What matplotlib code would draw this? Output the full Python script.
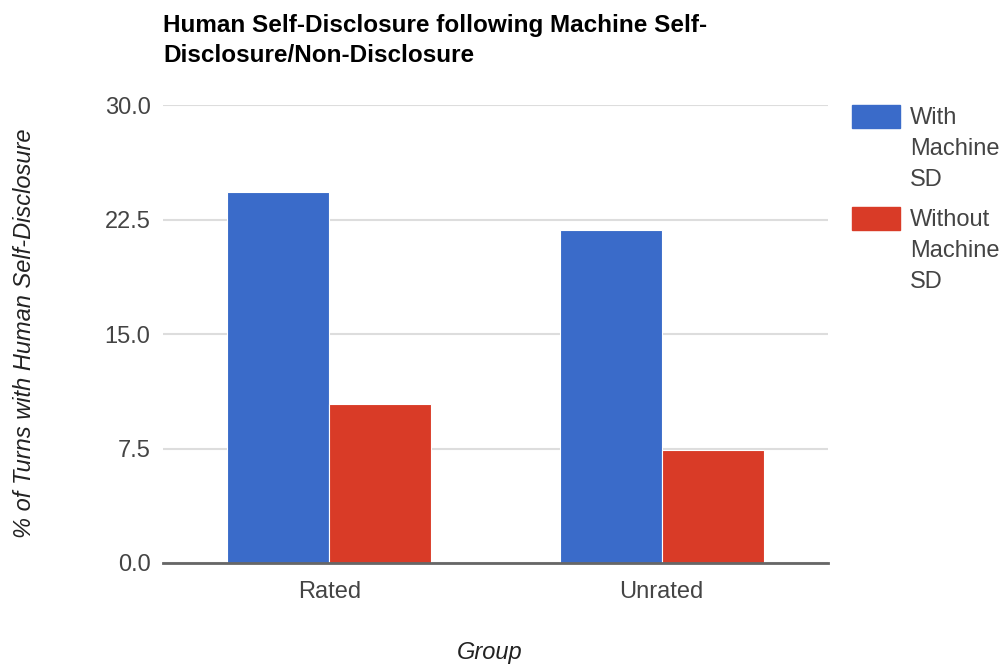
import matplotlib.pyplot as plt
import numpy as np
from matplotlib.patches import Rectangle

plt.rcParams["font.family"] = ["Liberation Sans", "DejaVu Sans"]

groups = ["Rated", "Unrated"]
series_names = ["With\nMachine\nSD", "Without\nMachine\nSD"]
with_sd = [24.3, 21.8]
without_sd = [10.4, 7.4]
y_ticks = [0.0, 7.5, 15.0, 22.5, 30.0]

colors = ["#3a6bc9", "#d93b27"]
text_grey = "#444444"
W, H = 1006, 667

fig = plt.figure(figsize=(W / 100, H / 100), dpi=100)
ax = fig.add_axes([0.162, 0.156, 0.661, 0.686])

x = np.arange(len(groups))
width = 0.307
for i, values in enumerate([with_sd, without_sd]):
    offset = (i - 0.5) * width
    ax.bar(x + offset, values, width, color=colors[i], edgecolor="white",
           linewidth=0.8, zorder=3)

ax.set_xlim(-0.5, len(groups) - 0.5)
ax.set_ylim(0, 30)
ax.set_yticks(y_ticks)
ax.set_yticklabels([f"{t:.1f}" for t in y_ticks])
ax.set_xticks(x)
ax.set_xticklabels(groups)
ax.tick_params(axis="both", length=0, labelsize=17, colors=text_grey)
ax.tick_params(axis="y", pad=9)
ax.tick_params(axis="x", pad=13)

ax.grid(axis="y", color="#dddddd", linewidth=1.5, zorder=0)
for side in ["top", "right", "left"]:
    ax.spines[side].set_visible(False)
ax.spines["bottom"].set_color("#666666")
ax.spines["bottom"].set_linewidth(2)
ax.spines["bottom"].set_zorder(4)

# axis titles placed in figure pixels
fig.text(25 / W, 1 - 333 / H, "% of Turns with Human Self-Disclosure",
         fontsize=17, style="italic", color="#222222", rotation=90,
         ha="center", va="center")
fig.text(490 / W, 1 - 653 / H, "Group", fontsize=17, style="italic",
         color="#222222", ha="center", va="center")

fig.text(163 / W, 1 - 14 / H,
         "Human Self-Disclosure following Machine Self-\nDisclosure/Non-Disclosure",
         fontsize=17.5, fontweight="bold", color="black", ha="left", va="top",
         linespacing=1.4)

# legend drawn by hand so the swatch lines up with the first text line
legend_top = [105, 207]
for name, color, top in zip(series_names, colors, legend_top):
    fig.add_artist(Rectangle((852 / W, 1 - (top + 23) / H), 48 / W, 23 / H,
                             transform=fig.transFigure, color=color))
    fig.text(910 / W, 1 - (top + 2) / H, name, fontsize=17, color=text_grey,
             ha="left", va="top", linespacing=1.54)

fig.savefig("out.png", dpi=100)
